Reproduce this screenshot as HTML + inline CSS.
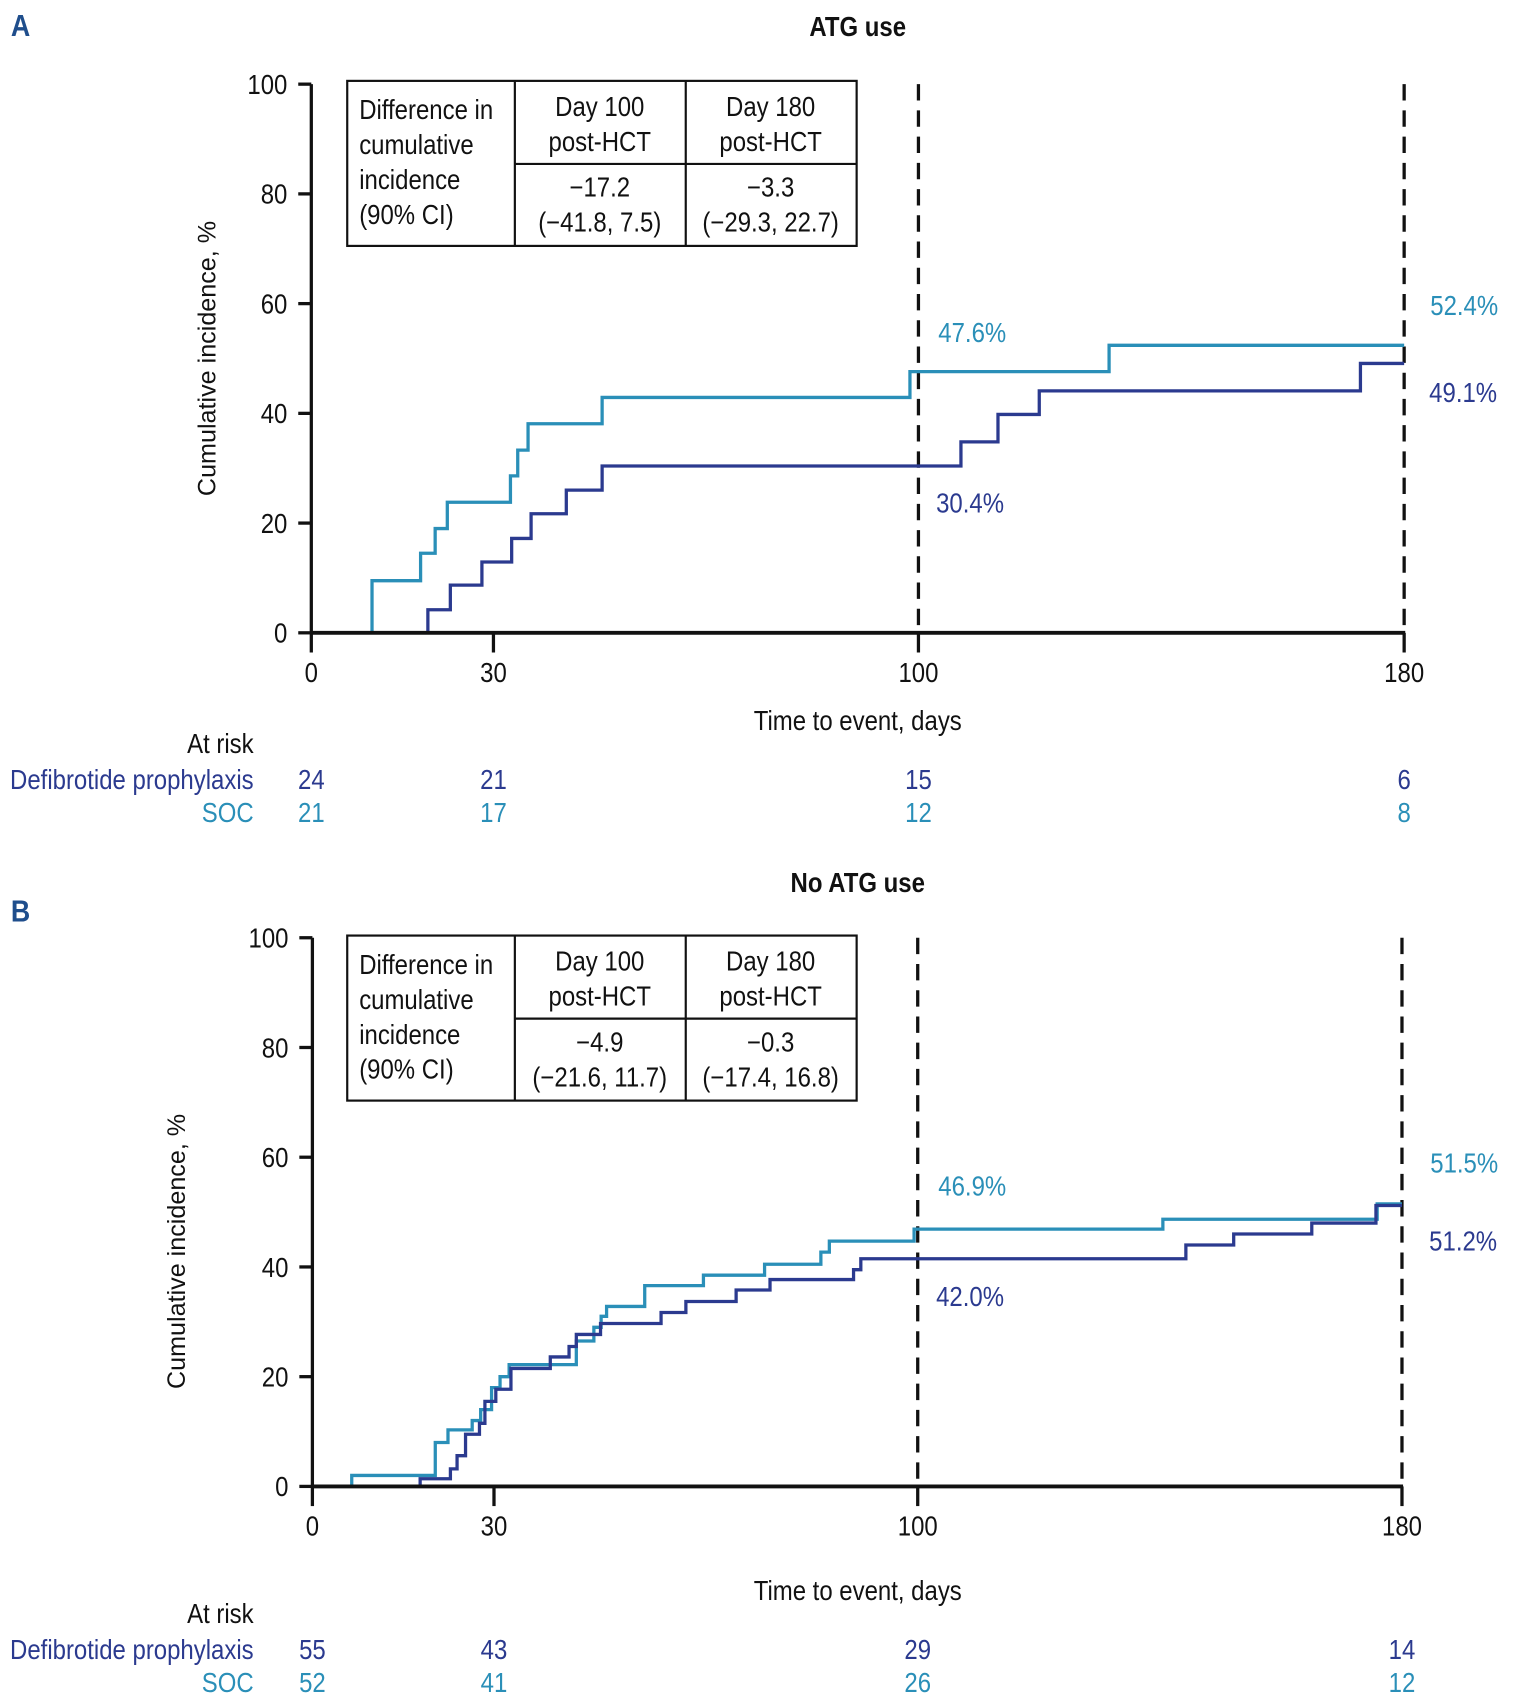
<!DOCTYPE html>
<html><head><meta charset="utf-8"><style>
html,body{margin:0;padding:0;background:#fff;}
svg{display:block;}
text{font-family:"Liberation Sans Narrow","Liberation Sans",sans-serif;}
</style></head><body>
<svg id="chart" width="1513" height="1705" viewBox="0 0 1390 1560" preserveAspectRatio="none" xmlns="http://www.w3.org/2000/svg"></svg>
<script>
// ---- Data ----
const xTicks = [0, 30, 100, 180];
const yTicks = [0, 20, 40, 60, 80, 100];
// Panel A (ATG use)
const aSocDays = [0, 10, 18, 20.4, 22.4, 32.8, 34, 35.7, 47.9, 98.6, 131.4, 180];
const aSocVals = [0, 9.5, 14.5, 19, 23.8, 28.6, 33.3, 38.1, 42.9, 47.6, 52.4, 52.4];
const aDefDays = [0, 19.2, 22.9, 28.1, 33, 36.2, 42, 47.9, 107, 113.1, 119.9, 172.8, 180];
const aDefVals = [0, 4.2, 8.7, 12.9, 17.2, 21.7, 26, 30.4, 34.8, 39.8, 44.1, 49.1, 49.1];
const aDefRisk = [24, 21, 15, 6];
const aSocRisk = [21, 17, 12, 8];
const aTable = ["−17.2", "(−41.8, 7.5)", "−3.3", "(−29.3, 22.7)"];
const aLabels = ["47.6%", "30.4%", "52.4%", "49.1%"];
// Panel B (No ATG use)
const bSocDays = [6.5, 20.3, 22.4, 26.4, 27.8, 29.6, 31, 32.5, 38.5, 43.6, 46.5, 47.7, 48.6, 53.1, 54.9, 64.6, 74.7, 84, 85.4, 99.4, 140.5, 175.9, 180];
const bSocVals = [2, 8, 10.3, 12, 14, 18, 20, 22.2, 22.2, 26.5, 29, 31, 32.8, 32.8, 36.6, 38.5, 40.5, 42.7, 44.7, 46.9, 48.7, 51.5, 51.5];
const bDefDays = [17.8, 22.8, 23.9, 25.3, 27.6, 28.5, 30.3, 32.8, 39.3, 42.4, 43.6, 47.6, 57.6, 61.7, 70, 75.6, 89.4, 90.6, 144.3, 152.2, 165.1, 175.7, 180];
const bDefVals = [1.4, 3.2, 5.6, 9.5, 11.5, 15.5, 17.7, 21.5, 23.6, 25.5, 27.7, 29.7, 31.7, 33.7, 35.8, 37.7, 39.5, 41.5, 44, 46, 48, 51.2, 51.2];
const bDefRisk = [55, 43, 29, 14];
const bSocRisk = [52, 41, 26, 12];
const bTable = ["−4.9", "(−21.6, 11.7)", "−0.3", "(−17.4, 16.8)"];
const bLabels = ["46.9%", "42.0%", "51.5%", "51.2%"];

const NAVY = "#2b3a8f", TEAL = "#2a8fb8";
const SQ = 0.88;
const svg = document.getElementById('chart');
const NS = "http://www.w3.org/2000/svg";
function el(tag, attrs, parent) {
  const e = document.createElementNS(NS, tag);
  for (const k in attrs) e.setAttribute(k, attrs[k]);
  (parent || svg).appendChild(e);
  return e;
}
function txt(s, x, y, opts, parent) {
  const o = Object.assign({'font-size': 25, fill: '#111'}, opts || {});
  if (!o.transform) { o.transform = 'translate(' + x + ',' + y + ') scale(' + SQ + ',1)'; o.x = 0; o.y = 0; }
  else { o.x = x; o.y = y; }
  const t = el('text', o, parent);
  t.textContent = s;
  return t;
}

function panel(cfg) {
  const g = el('g', {});
  
  
  const X = d => cfg.x0 + (cfg.x1 - cfg.x0) * d / 180;
  const Y = v => cfg.y0 - (cfg.y0 - cfg.y100) * v / 100;

  let t = txt(cfg.letter, 10, cfg.letterY, {'font-size': 28, 'font-weight': 'bold', fill: '#1f4e8c', 'font-family': '"Liberation Sans",sans-serif'}, g);
  
  
  t = txt(cfg.title, 788, cfg.titleY, {'font-weight': 'bold', 'text-anchor': 'middle'}, g);
  
  

  [100, 180].forEach(d => {
    const l = el('line', {x1: X(d), x2: X(d), y1: cfg.y100, y2: cfg.y0, stroke: '#111', 'stroke-width': 3, 'stroke-dasharray': '15 9'}, g);
    
    
  });

  let a = el('line', {x1: cfg.x0, x2: cfg.x0, y1: cfg.y100, y2: cfg.y0 + 1, stroke: '#111', 'stroke-width': 3}, g);
  
  
  yTicks.forEach(v => {
    const tk = el('line', {x1: cfg.x0 - 12, x2: cfg.x0, y1: Y(v), y2: Y(v), stroke: '#111', 'stroke-width': 3}, g);
    
    
    const tl = txt(String(v), cfg.x0 - 22, Y(v) + 9, {'text-anchor': 'end'}, g);
    
    
  });
  const yt = txt('Cumulative incidence, %', 0, 0, {'text-anchor': 'middle', 'font-family': '"Liberation Sans",sans-serif', 'font-size': 23, transform: 'translate(' + cfg.yTitleX + ',' + cfg.yTitleY + ') rotate(-90)'}, g);
  
  

  function step(days, vals, color, name) {
    let d = 'M' + X(days[0]) + ',' + Y(0);
    for (let i = 0; i < days.length; i++) {
      d += ' L' + X(days[i]) + ',' + Y(i === 0 ? 0 : vals[i - 1]) + ' L' + X(days[i]) + ',' + Y(vals[i]);
    }
    const p = el('path', {d: d, fill: 'none', stroke: color, 'stroke-width': 3}, g);
    
    
  }
  step(cfg.socDays, cfg.socVals, TEAL, 'soc-curve');
  step(cfg.defDays, cfg.defVals, NAVY, 'defibrotide-curve');

  a = el('line', {x1: cfg.x0 - 1, x2: cfg.x1 + 1, y1: cfg.y0, y2: cfg.y0, stroke: '#111', 'stroke-width': 3.5}, g);
  
  
  xTicks.forEach((d, i) => {
    const tk = el('line', {x1: X(d), x2: X(d), y1: cfg.y0, y2: cfg.y0 + 18, stroke: '#111', 'stroke-width': 3}, g);
    
    
    const tl = txt(String(d), X(d), cfg.y0 + 45, {'text-anchor': 'middle'}, g);
    
    
    const r1 = txt(String(cfg.defRisk[i]), X(d), cfg.riskY, {'text-anchor': 'middle', fill: NAVY}, g);
    
    
    const r2 = txt(String(cfg.socRisk[i]), X(d), cfg.riskY + 30, {'text-anchor': 'middle', fill: TEAL}, g);
    
    
  });
  const xt = txt('Time to event, days', 788, cfg.xTitleY, {'text-anchor': 'middle'}, g);
  
  
  let r = txt('At risk', 233, cfg.riskY - 33, {'text-anchor': 'end'}, g);
  
  
  r = txt('Defibrotide prophylaxis', 233, cfg.riskY, {'text-anchor': 'end', fill: NAVY}, g);
  
  
  r = txt('SOC', 233, cfg.riskY + 30, {'text-anchor': 'end', fill: TEAL}, g);
  
  

  const L = cfg.labels;
  [[L[0], 862, cfg.l100s, TEAL], [L[1], 860, cfg.l100d, NAVY], [L[2], 1314, cfg.l180s, TEAL], [L[3], 1313, cfg.l180d, NAVY]].forEach(o => {
    const vl = txt(o[0], o[1], o[2], {fill: o[3]}, g);
    
    
  });

  const ty = cfg.tableY;
  const tb = el('g', {}, g);
  
  
  el('rect', {x: 319, y: ty, width: 468, height: 151, fill: '#fff', stroke: '#111', 'stroke-width': 2}, tb);
  el('line', {x1: 473, x2: 473, y1: ty, y2: ty + 151, stroke: '#111', 'stroke-width': 2}, tb);
  el('line', {x1: 630, x2: 630, y1: ty, y2: ty + 151, stroke: '#111', 'stroke-width': 2}, tb);
  el('line', {x1: 473, x2: 787, y1: ty + 76, y2: ty + 76, stroke: '#111', 'stroke-width': 2}, tb);
  ['Difference in', 'cumulative', 'incidence', '(90% CI)'].forEach((s, i) => txt(s, 330, ty + 35 + i * 32, {}, tb));
  txt('Day 100', 551, ty + 32, {'text-anchor': 'middle'}, tb);
  txt('post-HCT', 551, ty + 64, {'text-anchor': 'middle'}, tb);
  txt('Day 180', 708, ty + 32, {'text-anchor': 'middle'}, tb);
  txt('post-HCT', 708, ty + 64, {'text-anchor': 'middle'}, tb);
  txt(cfg.table[0], 551, ty + 106, {'text-anchor': 'middle'}, tb);
  txt(cfg.table[1], 551, ty + 138, {'text-anchor': 'middle'}, tb);
  txt(cfg.table[2], 708, ty + 106, {'text-anchor': 'middle'}, tb);
  txt(cfg.table[3], 708, ty + 138, {'text-anchor': 'middle'}, tb);
}

panel({name: 'panel-a-atg-use', letter: 'A', letterY: 33, title: 'ATG use', titleY: 33,
  x0: 286, x1: 1290, y0: 579, y100: 77, yTitleX: 198, yTitleY: 328,
  socDays: aSocDays, socVals: aSocVals, defDays: aDefDays, defVals: aDefVals,
  defRisk: aDefRisk, socRisk: aSocRisk, riskY: 722, xTitleY: 668, table: aTable, tableY: 74,
  labels: aLabels, l100s: 313, l100d: 469, l180s: 288, l180d: 368});

panel({name: 'panel-b-no-atg-use', letter: 'B', letterY: 843, title: 'No ATG use', titleY: 816,
  x0: 287, x1: 1288, y0: 1360, y100: 858, yTitleX: 170, yTitleY: 1145,
  socDays: bSocDays, socVals: bSocVals, defDays: bDefDays, defVals: bDefVals,
  defRisk: bDefRisk, socRisk: bSocRisk, riskY: 1518, xTitleY: 1464, table: bTable, tableY: 856,
  labels: bLabels, l100s: 1094, l100d: 1195, l180s: 1073, l180d: 1144});
</script>
</body></html>
